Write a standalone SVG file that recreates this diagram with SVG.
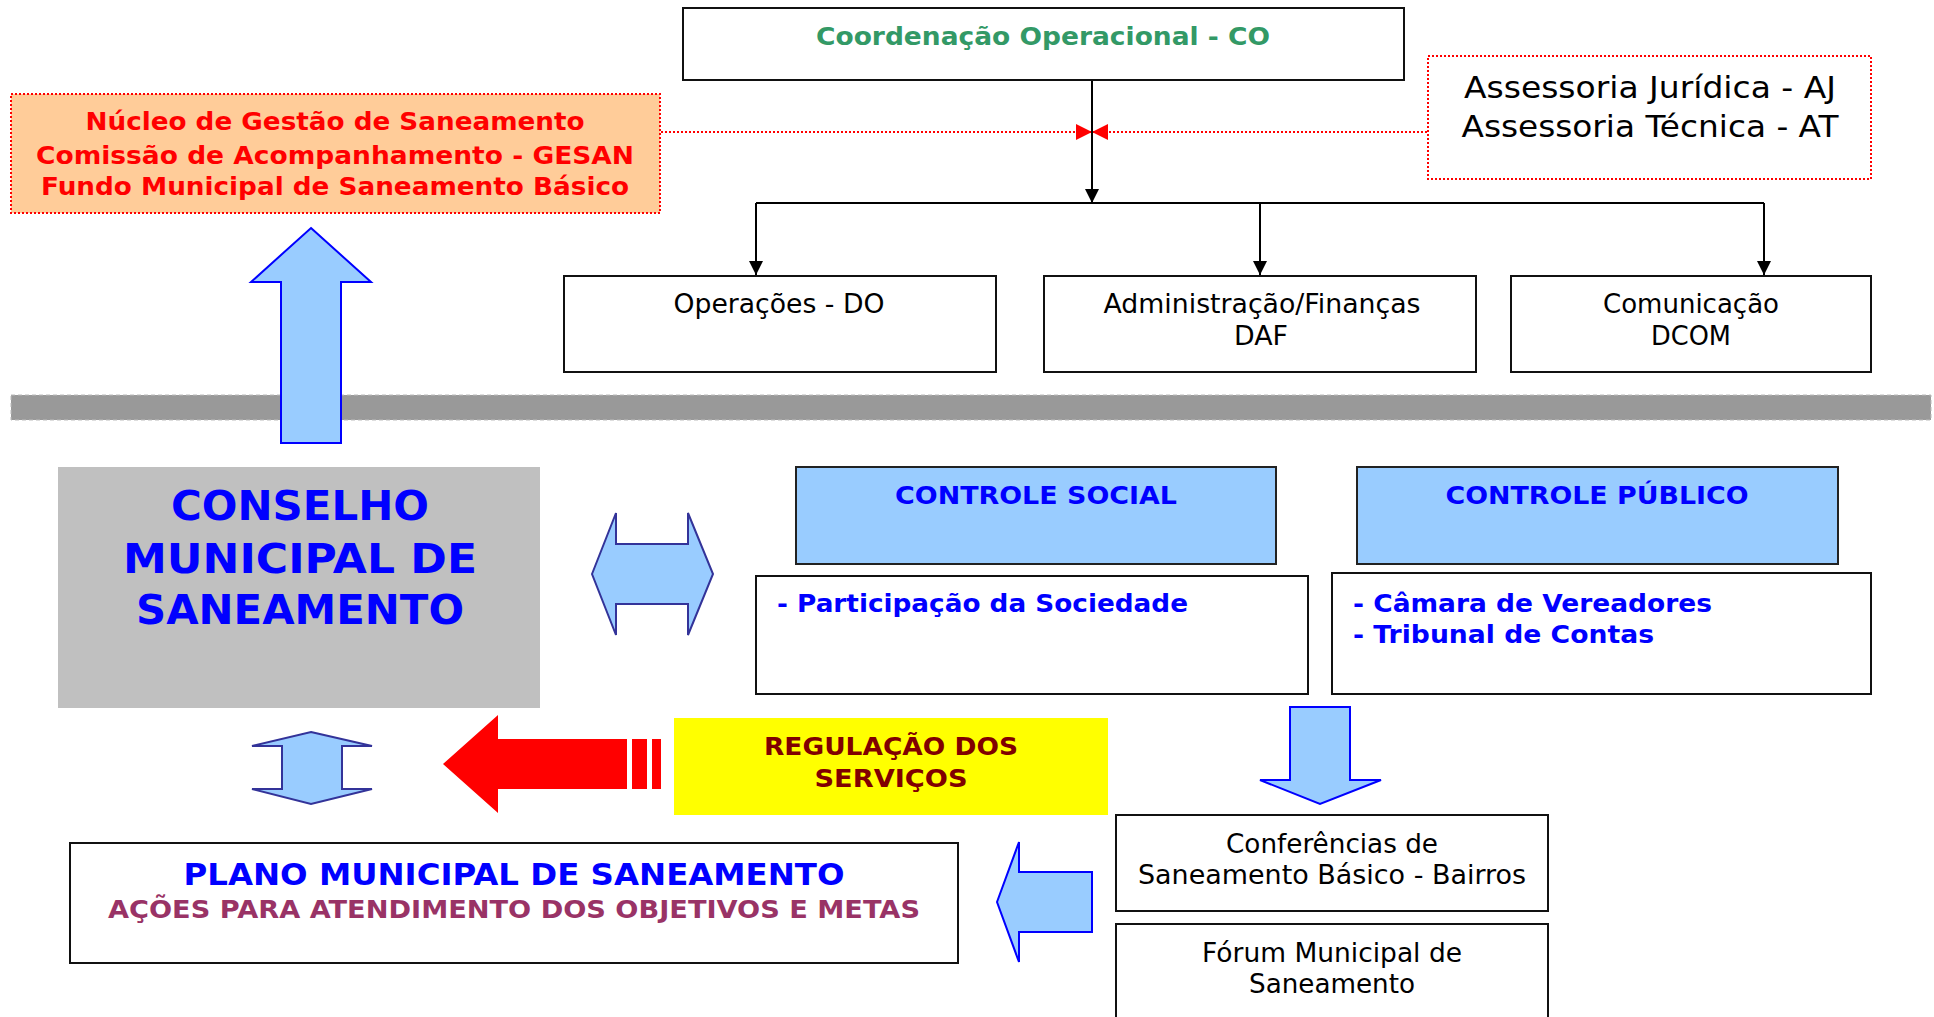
<svg xmlns="http://www.w3.org/2000/svg" width="1934" height="1017" viewBox="0 0 1934 1017">
<defs>
<style>
text{font-family:"DejaVu Sans","Liberation Sans",sans-serif}
.b{font-weight:bold}
.box{fill:#fff;stroke:#111;stroke-width:2}
.ctl{fill:#99CCFF;stroke:#222;stroke-width:2}
.reg{fill:#000;font-size:26px}
.blu{fill:#0000FF;font-weight:bold}
.conn{fill:none;stroke:#000;stroke-width:2}
.dot{fill:none;stroke:#FF0000;stroke-width:2;stroke-dasharray:2 2}
.barrow{fill:#99CCFF;stroke:#0000FF;stroke-width:2;stroke-linejoin:miter}
.darrow{fill:#99CCFF;stroke:#333399;stroke-width:2}
</style>
<marker id="ah" markerUnits="userSpaceOnUse" markerWidth="14" markerHeight="16" refX="14" refY="7" orient="auto">
<path d="M0,0 L14,7 L0,14 Z" fill="#000"/>
</marker>
<marker id="rh" markerUnits="userSpaceOnUse" markerWidth="16" markerHeight="16" refX="16" refY="8" orient="auto">
<path d="M0,0 L16,8 L0,16 Z" fill="#FF0000"/>
</marker>
</defs>
<rect width="1934" height="1017" fill="#fff"/>

<!-- separator band -->
<rect x="11" y="395" width="1920" height="25" fill="#999999" stroke="#BBBBBB" stroke-width="1" stroke-dasharray="4 3"/>

<g id="connectors">
<path class="dot" d="M661,132 H1092" marker-end="url(#rh)"/>
<path class="dot" d="M1427,132 H1092" marker-end="url(#rh)"/>
<path class="conn" d="M1092,81 V203" marker-end="url(#ah)"/>
<path class="conn" d="M756,203 H1764"/>
<path class="conn" d="M756,203 V275" marker-end="url(#ah)"/>
<path class="conn" d="M1260,203 V275" marker-end="url(#ah)"/>
<path class="conn" d="M1764,203 V275" marker-end="url(#ah)"/>
</g>

<g id="nucleo">
<rect x="11" y="94" width="649" height="119" fill="#FFCC99" stroke="#FF0000" stroke-width="2" stroke-dasharray="2 2"/>
<text class="b" fill="#FF0000" font-size="25" text-anchor="middle" x="335" y="130" textLength="499" lengthAdjust="spacingAndGlyphs">Núcleo de Gestão de Saneamento</text>
<text class="b" fill="#FF0000" font-size="25" text-anchor="middle" x="335" y="164" textLength="598" lengthAdjust="spacingAndGlyphs">Comissão de Acompanhamento - GESAN</text>
<text class="b" fill="#FF0000" font-size="25" text-anchor="middle" x="335" y="195" textLength="588" lengthAdjust="spacingAndGlyphs">Fundo Municipal de Saneamento Básico</text>
</g>

<g id="coordenacao">
<rect class="box" x="683" y="8" width="721" height="72"/>
<text class="b" fill="#339966" font-size="25" text-anchor="middle" x="1043" y="45" textLength="454" lengthAdjust="spacingAndGlyphs">Coordenação Operacional - CO</text>
</g>

<g id="assessoria">
<rect x="1428" y="56" width="443" height="123" fill="#fff" stroke="#FF0000" stroke-width="2" stroke-dasharray="2 2"/>
<text fill="#000" font-size="30" text-anchor="middle" x="1650" y="98" textLength="372" lengthAdjust="spacingAndGlyphs">Assessoria Jurídica - AJ</text>
<text fill="#000" font-size="30" text-anchor="middle" x="1650" y="137" textLength="377" lengthAdjust="spacingAndGlyphs">Assessoria Técnica - AT</text>
</g>

<g id="operacoes">
<rect class="box" x="564" y="276" width="432" height="96"/>
<text class="reg" text-anchor="middle" x="779" y="313" textLength="211" lengthAdjust="spacingAndGlyphs">Operações - DO</text>
</g>

<g id="administracao">
<rect class="box" x="1044" y="276" width="432" height="96"/>
<text class="reg" text-anchor="middle" x="1262" y="313" textLength="317" lengthAdjust="spacingAndGlyphs">Administração/Finanças</text>
<text class="reg" text-anchor="middle" x="1261" y="345" textLength="54" lengthAdjust="spacingAndGlyphs">DAF</text>
</g>

<g id="comunicacao">
<rect class="box" x="1511" y="276" width="360" height="96"/>
<text class="reg" text-anchor="middle" x="1691" y="313" textLength="176" lengthAdjust="spacingAndGlyphs">Comunicação</text>
<text class="reg" text-anchor="middle" x="1691" y="345" textLength="80" lengthAdjust="spacingAndGlyphs">DCOM</text>
</g>

<g id="seta-cima">
<path class="barrow" d="M311,228 L371,282 L341,282 L341,443 L281,443 L281,282 L251,282 Z"/>
</g>

<g id="conselho">
<rect x="58" y="467" width="482" height="241" fill="#C0C0C0"/>
<text class="blu" font-size="41" text-anchor="middle" x="300" y="520" textLength="258" lengthAdjust="spacingAndGlyphs">CONSELHO</text>
<text class="blu" font-size="41" text-anchor="middle" x="300" y="573" textLength="354" lengthAdjust="spacingAndGlyphs">MUNICIPAL DE</text>
<text class="blu" font-size="41" text-anchor="middle" x="300" y="624" textLength="328" lengthAdjust="spacingAndGlyphs">SANEAMENTO</text>
</g>

<g id="seta-dupla-h">
<path class="darrow" d="M592,574 L616,513 L616,544 L688,544 L688,513 L713,574 L688,635 L688,604 L616,604 L616,635 Z"/>
</g>

<g id="controle-social">
<rect class="ctl" x="796" y="467" width="480" height="97"/>
<text class="blu" font-size="25" text-anchor="middle" x="1036" y="504" textLength="282" lengthAdjust="spacingAndGlyphs">CONTROLE SOCIAL</text>
</g>

<g id="participacao">
<rect class="box" x="756" y="576" width="552" height="118"/>
<text class="blu" font-size="25" x="777" y="612" textLength="411" lengthAdjust="spacingAndGlyphs">- Participação da Sociedade</text>
</g>

<g id="controle-publico">
<rect class="ctl" x="1357" y="467" width="481" height="97"/>
<text class="blu" font-size="25" text-anchor="middle" x="1597" y="504" textLength="303" lengthAdjust="spacingAndGlyphs">CONTROLE PÚBLICO</text>
</g>

<g id="camara">
<rect class="box" x="1332" y="573" width="539" height="121"/>
<text class="blu" font-size="25" x="1353" y="612" textLength="359" lengthAdjust="spacingAndGlyphs">- Câmara de Vereadores</text>
<text class="blu" font-size="25" x="1353" y="643" textLength="301" lengthAdjust="spacingAndGlyphs">- Tribunal de Contas</text>
</g>

<g id="seta-dupla-v">
<path class="darrow" d="M311,732 L372,746 L342,746 L342,789 L372,789 L311,804 L252,789 L282,789 L282,746 L252,746 Z"/>
</g>

<g id="seta-vermelha">
<path d="M443,764 L498,715 L498,739 L627,739 L627,789 L498,789 L498,813 Z" fill="#FF0000"/>
<rect x="632" y="739" width="15" height="50" fill="#FF0000"/>
<rect x="652" y="739" width="9" height="50" fill="#FF0000"/>
</g>

<g id="regulacao">
<rect x="674" y="718" width="434" height="97" fill="#FFFF00"/>
<text class="b" fill="#800000" font-size="24" text-anchor="middle" x="891" y="755" textLength="254" lengthAdjust="spacingAndGlyphs">REGULAÇÃO DOS</text>
<text class="b" fill="#800000" font-size="24" text-anchor="middle" x="891" y="787" textLength="153" lengthAdjust="spacingAndGlyphs">SERVIÇOS</text>
</g>

<g id="seta-baixo">
<path class="barrow" d="M1290,707 L1350,707 L1350,780 L1381,780 L1320,804 L1260,780 L1290,780 Z"/>
</g>

<g id="seta-esquerda">
<path class="barrow" d="M997,902 L1019,842 L1019,872 L1092,872 L1092,932 L1019,932 L1019,962 Z"/>
</g>

<g id="plano">
<rect class="box" x="70" y="843" width="888" height="120"/>
<text class="blu" font-size="30" text-anchor="middle" x="514" y="885" textLength="661" lengthAdjust="spacingAndGlyphs">PLANO MUNICIPAL DE SANEAMENTO</text>
<text class="b" fill="#993366" font-size="24" text-anchor="middle" x="514" y="918" textLength="812" lengthAdjust="spacingAndGlyphs">AÇÕES PARA ATENDIMENTO DOS OBJETIVOS E METAS</text>
</g>

<g id="conferencias">
<rect class="box" x="1116" y="815" width="432" height="96"/>
<text class="reg" text-anchor="middle" x="1332" y="853" textLength="212" lengthAdjust="spacingAndGlyphs">Conferências de</text>
<text class="reg" text-anchor="middle" x="1332" y="884" textLength="388" lengthAdjust="spacingAndGlyphs">Saneamento Básico - Bairros</text>
</g>

<g id="forum">
<rect class="box" x="1116" y="924" width="432" height="110"/>
<text class="reg" text-anchor="middle" x="1332" y="962" textLength="260" lengthAdjust="spacingAndGlyphs">Fórum Municipal de</text>
<text class="reg" text-anchor="middle" x="1332" y="993" textLength="166" lengthAdjust="spacingAndGlyphs">Saneamento</text>
</g>
</svg>
